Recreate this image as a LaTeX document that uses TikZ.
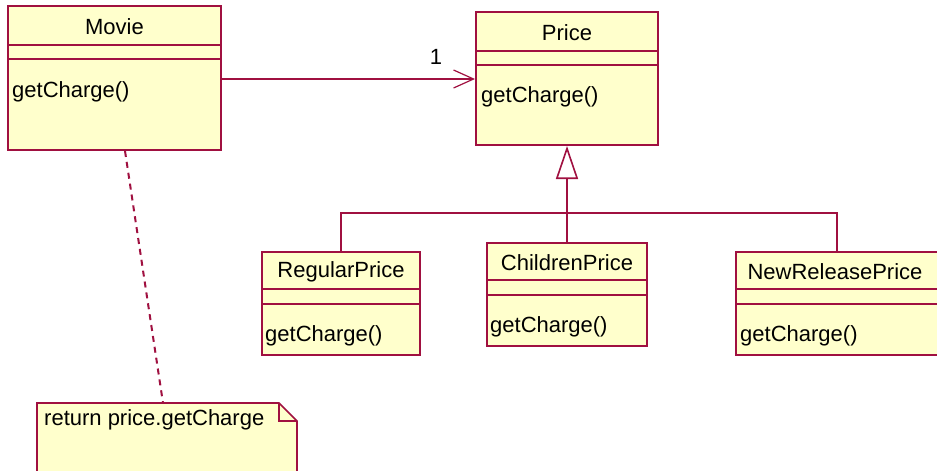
\documentclass[tikz,border=0pt]{standalone}
\usepackage{fontspec}
\setmainfont{Liberation Sans}
\usetikzlibrary{arrows.meta}
\definecolor{umlline}{RGB}{160,16,64}
\definecolor{umlfill}{RGB}{255,255,204}
\tikzset{
  cls/.style={draw=umlline, fill=umlfill, line width=2pt, rectangle, inner sep=0pt},
  sepline/.style={draw=umlline, line width=1.6pt},
  title/.style={font=\fontsize{22}{24}\selectfont, inner sep=0pt},
  oper/.style={font=\fontsize{22}{24}\selectfont, inner sep=0pt, anchor=west},
  assoc/.style={draw=umlline, line width=2pt, -{Straight Barb[length=20pt,width=18pt,line width=1.2pt]}},
  gen/.style={draw=umlline, line width=2pt, -{Triangle[open,length=33pt,width=22pt,fill=white,line width=1.6pt]}},
  tree/.style={draw=umlline, line width=2pt},
  notelink/.style={draw=umlline, line width=2pt, dash pattern=on 6pt off 5pt},
}
\begin{document}
\begin{tikzpicture}[x=1pt,y=-1pt]
\useasboundingbox (0,0) rectangle (937,471);
\fill[white] (0,0) rectangle (937,471);

% Movie
\node[cls, minimum width=213pt, minimum height=144pt] (movie) at (114.5,78) {};
\node[title] (movieT) at (114.5,27) {Movie};
\draw[sepline] (8,45) -- (221,45);
\draw[sepline] (8,59) -- (221,59);
\node[oper] (movieO) at (12,92) {getCharge()};

% Price
\node[cls, minimum width=182pt, minimum height=133pt] (price) at (567,78.5) {};
\node[title] (priceT) at (567,33) {Price};
\draw[sepline] (476,51) -- (658,51);
\draw[sepline] (476,65) -- (658,65);
\node[oper] (priceO) at (481,97) {getCharge()};

% RegularPrice
\node[cls, minimum width=158pt, minimum height=103pt] (reg) at (341,303.5) {};
\node[title] (regT) at (341,272) {RegularPrice};
\draw[sepline] (262,289) -- (420,289);
\draw[sepline] (262,304) -- (420,304);
\node[oper] (regO) at (265,336) {getCharge()};

% ChildrenPrice
\node[cls, minimum width=160pt, minimum height=103pt] (child) at (567,294.5) {};
\node[title] (childT) at (567,263) {ChildrenPrice};
\draw[sepline] (487,280) -- (647,280);
\draw[sepline] (487,295) -- (647,295);
\node[oper] (childO) at (490,327) {getCharge()};

% NewReleasePrice
\node[cls, minimum width=202pt, minimum height=103pt] (nrp) at (837,303.5) {};
\node[title] (nrpT) at (835,272) {NewReleasePrice};
\draw[sepline] (736,289) -- (938,289);
\draw[sepline] (736,304) -- (938,304);
\node[oper] (nrpO) at (740,336) {getCharge()};

% Note
\coordinate (noteTop) at (163,403);
\draw[draw=umlline, fill=umlfill, line width=1.6pt]
  (37,403) -- (279,403) -- (297,421) -- (297,480) -- (37,480) -- cycle;
\draw[draw=umlline, line width=1.2pt] (279,403) -- (279,421) -- (297,421);
\node[oper] (noteT) at (44,420) {return price.getCharge};

% Association Movie -> Price
\draw[assoc] (movie.east |- 0,79) -- (price.west |- 0,79);
\node[title] (mult) at (436,57) {1};

% Generalization
\coordinate (bus) at (567,213);
\draw[gen] (child.north) -- (price.south);
\draw[tree] (reg.north) |- (bus);
\draw[tree] (nrp.north) |- (bus);

% Note link
\draw[notelink] (movie.south -| 125,0) -- (noteTop);
\end{tikzpicture}
\end{document}
